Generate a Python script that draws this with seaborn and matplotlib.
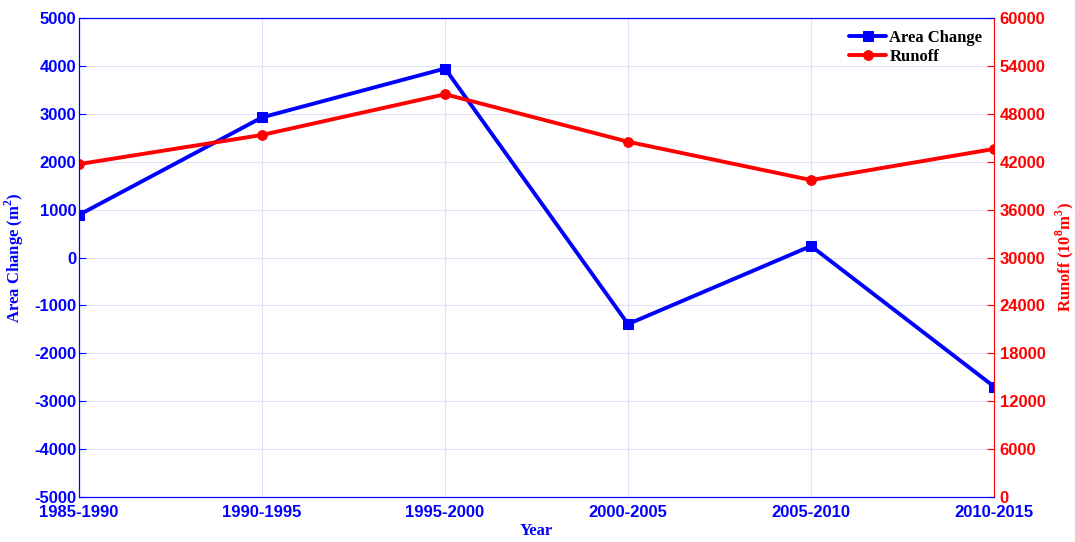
import matplotlib
matplotlib.use("Agg")
import matplotlib.pyplot as plt
import seaborn as sns

periods = ["1985-1990", "1990-1995", "1995-2000", "2000-2005", "2005-2010", "2010-2015"]
area_change = [890, 2925, 3945, -1390, 240, -2695]
runoff = [41700, 45350, 50450, 44500, 39700, 43600]

sns.set_style("white")
plt.rcParams["font.family"] = ["Liberation Sans", "DejaVu Sans"]
plt.rcParams["font.weight"] = "bold"
plt.rcParams["font.size"] = 12
plt.rcParams["axes.unicode_minus"] = False
plt.rcParams["mathtext.fontset"] = "custom"
plt.rcParams["mathtext.rm"] = "Liberation Serif:bold"
plt.rcParams["mathtext.bf"] = "Liberation Serif:bold"
plt.rcParams["xtick.direction"] = "in"
plt.rcParams["ytick.direction"] = "in"

blue = "#0000ff"
red = "#ff0000"
label_font = dict(family="Liberation Serif", weight="bold", size=12)

fig = plt.figure(figsize=(10.75, 5.42), dpi=100)
ax = fig.add_axes([0.0735, 0.083, 0.8512, 0.8838])
ax2 = ax.twinx()

sns.lineplot(x=periods, y=area_change, ax=ax, color=blue, linewidth=2.8,
             marker="s", markersize=6.5, markeredgecolor=blue, sort=False, label="Area Change", legend=False)
sns.lineplot(x=periods, y=runoff, ax=ax2, color=red, linewidth=2.8,
             marker="o", markersize=7, markeredgecolor=red, sort=False, label="Runoff", legend=False)

ax.set_xlim(0, len(periods) - 1)
ax.set_ylim(-5000, 5000)
ax.set_yticks(range(-5000, 5001, 1000))
ax2.set_ylim(0, 60000)
ax2.set_yticks(range(0, 60001, 6000))

ax.grid(True, color="#e0e0f8", linewidth=0.8)
ax.set_axisbelow(True)

ax.tick_params(axis="both", colors=blue, labelcolor=blue, labelsize=12, length=5, width=0.8, pad=2)
ax.tick_params(axis="x", pad=6)
ax2.tick_params(axis="y", colors=red, labelcolor=red, labelsize=12, length=5, width=0.8, pad=4)

for side in ["left", "bottom", "top"]:
    ax.spines[side].set_color(blue)
    ax2.spines[side].set_color(blue)
ax2.spines["right"].set_color(red)
ax.spines["right"].set_visible(False)

ax.set_xlabel("Year", color=blue, labelpad=2, **label_font)
ax.set_ylabel("Area Change (m$^2$)", color=blue, labelpad=6, **label_font)
ax2.set_ylabel("Runoff (10$^8$m$^3$)", color=red, labelpad=6, **label_font)

h1, l1 = ax.get_legend_handles_labels()
h2, l2 = ax2.get_legend_handles_labels()
leg = ax2.legend(h1 + h2, l1 + l2, loc="upper right", frameon=False,
                 prop=dict(family="Liberation Serif", weight="bold", size=12),
                 handlelength=2.2, handletextpad=0.2, labelspacing=0.2,
                 borderaxespad=0.3)
for t in leg.get_texts():
    t.set_color("black")

fig.savefig("out.png", dpi=100)
